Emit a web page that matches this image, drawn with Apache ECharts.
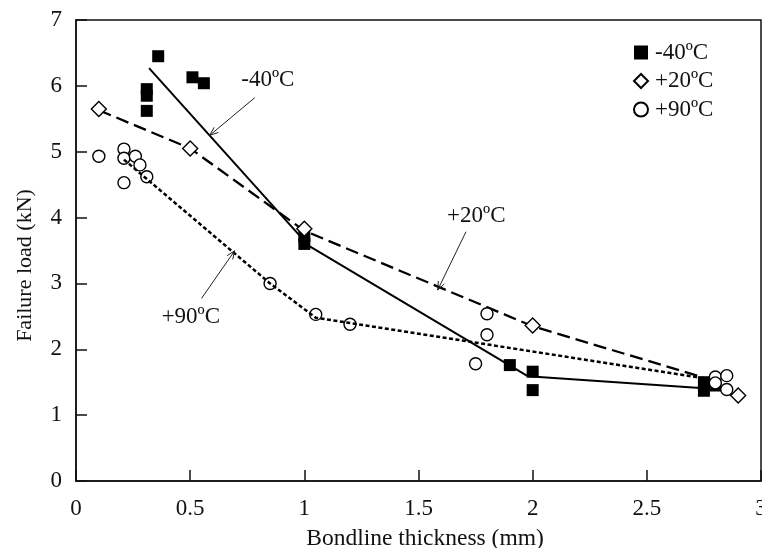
<!DOCTYPE html>
<html>
<head>
<meta charset="utf-8">
<script src="https://cdn.jsdelivr.net/npm/echarts@6/dist/echarts.min.js"></script>
<style>
  html, body { margin: 0; padding: 0; background: #fff; }
  #main { width: 762px; height: 548px; }
</style>
</head>
<body>
<div id="main"></div>
<script>
// Measured failure loads (kN) against bondline thickness (mm)
const xM40 = [0.31, 0.31, 0.31, 0.36, 0.51, 0.56, 1.0, 1.0, 1.9, 2.0, 2.0, 2.75, 2.75, 2.8];
const yM40 = [5.95, 5.85, 5.62, 6.45, 6.13, 6.04, 3.72, 3.60, 1.76, 1.66, 1.38, 1.50, 1.37, 1.45];

const xP20 = [0.1, 0.5, 1.0, 2.0, 2.9];
const yP20 = [5.65, 5.05, 3.83, 2.36, 1.30];

const xP90 = [0.1, 0.21, 0.21, 0.21, 0.26, 0.28, 0.31, 0.85, 1.05, 1.2, 1.75, 1.8, 1.8, 2.8, 2.8, 2.85, 2.85];
const yP90 = [4.93, 5.04, 4.90, 4.53, 4.93, 4.80, 4.62, 3.00, 2.53, 2.38, 1.78, 2.54, 2.22, 1.58, 1.49, 1.60, 1.39];

// Trend lines through the data at each temperature
const trendM40X = [0.32, 1.02, 1.98, 2.75];
const trendM40Y = [6.27, 3.57, 1.59, 1.41];
const trendP20X = [0.1, 0.5, 1.0, 2.0, 2.75];
const trendP20Y = [5.63, 5.05, 3.80, 2.35, 1.57];
const trendP90X = [0.21, 0.85, 1.05, 2.75];
const trendP90Y = [4.88, 3.00, 2.48, 1.56];

const seriesNames = ['-40ºC', '+20ºC', '+90ºC'];
const xTicks = { min: 0, max: 3, step: 0.5 };
const yTicks = { min: 0, max: 7, step: 1 };

// Callout labels: text anchor, arrow tail and arrow tip (data units)
const calloutText = ['-40ºC', '+20ºC', '+90ºC'];
const calloutAt   = [[0.84, 6.09], [1.753, 4.02], [0.503, 2.49]];
const calloutTail = [[0.783, 5.82], [1.708, 3.785], [0.55, 2.774]];
const calloutTip  = [[0.586, 5.25], [1.584, 2.90], [0.695, 3.497]];

const pairs = (xs, ys) => xs.map((x, i) => [x, ys[i]]);
const FONT = '"Liberation Serif", "DejaVu Serif", "Times New Roman", serif';
const INK = '#111';

const chart = echarts.init(document.getElementById('main'), null, { renderer: 'canvas' });

const axisCommon = {
  type: 'value',
  axisLine: { show: true, lineStyle: { color: INK, width: 1.5 } },
  axisTick: { show: true, inside: true, length: 11, lineStyle: { color: INK, width: 1.5 } },
  splitLine: { show: false },
  nameLocation: 'middle'
};

chart.setOption({
  animation: false,
  backgroundColor: '#fff',
  grid: {
    left: 76, right: 1, top: 20, bottom: 67,
    containLabel: false, outerBoundsMode: 'none',
    show: true, borderColor: INK, borderWidth: 1.5, backgroundColor: 'transparent'
  },
  xAxis: Object.assign({}, axisCommon, {
    min: xTicks.min, max: xTicks.max, interval: xTicks.step,
    axisLabel: { fontFamily: FONT, fontSize: 23, color: INK, margin: 16, hideOverlap: false },
    name: 'Bondline thickness (mm)',
    nameGap: 46,
    nameTextStyle: { fontFamily: FONT, fontSize: 23.5, color: INK, padding: [0, 0, 0, 13] }
  }),
  yAxis: Object.assign({}, axisCommon, {
    min: yTicks.min, max: yTicks.max, interval: yTicks.step,
    axisLabel: { fontFamily: FONT, fontSize: 23, color: INK, margin: 14 },
    name: 'Failure load (kN)',
    nameGap: 40,
    nameTextStyle: { fontFamily: FONT, fontSize: 22, color: INK, padding: [0, 30, 0, 0] }
  }),
  legend: {
    data: seriesNames,
    orient: 'vertical',
    left: 628,
    top: 36,
    itemWidth: 14,
    itemHeight: 14,
    itemGap: 5.5,
    textStyle: { fontFamily: FONT, fontSize: 23, color: INK, padding: [0, 0, 0, 2] }
  },
  series: [
    {
      name: seriesNames[0], type: 'scatter', symbol: 'rect', symbolSize: 12,
      itemStyle: { color: '#000', borderColor: '#000', borderWidth: 0, opacity: 1 },
      data: pairs(xM40, yM40), z: 3
    },
    {
      name: seriesNames[1], type: 'scatter', symbol: 'diamond', symbolSize: 15,
      itemStyle: { color: '#fff', borderColor: '#000', borderWidth: 1.4, opacity: 1 },
      data: pairs(xP20, yP20), z: 3
    },
    {
      name: seriesNames[2], type: 'scatter', symbol: 'circle', symbolSize: 12,
      itemStyle: { color: '#fff', borderColor: '#000', borderWidth: 1.4, opacity: 1 },
      data: pairs(xP90, yP90), z: 3
    },
    {
      type: 'line', showSymbol: false, symbol: 'none', silent: true, z: 4,
      lineStyle: { color: '#000', width: 2, type: 'solid' },
      data: pairs(trendM40X, trendM40Y)
    },
    {
      type: 'line', showSymbol: false, symbol: 'none', silent: true, z: 2,
      lineStyle: { color: '#000', width: 2.3, type: [13, 6] },
      data: pairs(trendP20X, trendP20Y)
    },
    {
      type: 'line', showSymbol: false, symbol: 'none', silent: true, z: 4,
      lineStyle: { color: '#000', width: 2.5, type: [4, 2.5] },
      data: pairs(trendP90X, trendP90Y)
    }
  ]
});

// Callout arrows and labels placed through the grid's coordinate system
const toPx = p => chart.convertToPixel({ gridIndex: 0 }, p);
const graphics = [];
calloutText.forEach((txt, i) => {
  const a = toPx(calloutAt[i]);
  const t = toPx(calloutTail[i]);
  const h = toPx(calloutTip[i]);
  const ang = Math.atan2(t[1] - h[1], t[0] - h[0]);
  const L = 9, spread = 0.38;
  const w1 = [h[0] + L * Math.cos(ang + spread), h[1] + L * Math.sin(ang + spread)];
  const w2 = [h[0] + L * Math.cos(ang - spread), h[1] + L * Math.sin(ang - spread)];
  graphics.push({
    type: 'line', z: 10, silent: true,
    shape: { x1: t[0], y1: t[1], x2: h[0], y2: h[1] },
    style: { stroke: '#222', lineWidth: 1 }
  });
  graphics.push({
    type: 'polyline', z: 10, silent: true,
    shape: { points: [w1, h, w2] },
    style: { stroke: '#222', lineWidth: 1, fill: null }
  });
  graphics.push({
    type: 'text', z: 10, silent: true,
    x: a[0], y: a[1],
    style: { text: txt, fontFamily: FONT, fontSize: 23, fill: INK, align: 'center', verticalAlign: 'middle' }
  });
});
chart.setOption({ graphic: graphics });
</script>
</body>
</html>
